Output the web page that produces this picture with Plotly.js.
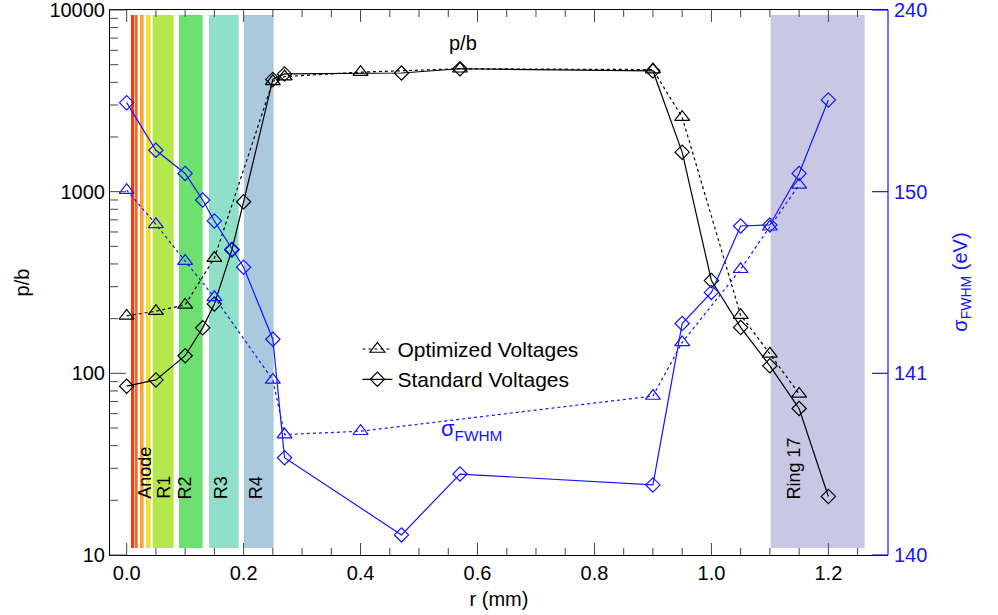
<!DOCTYPE html>
<html>
<head>
<meta charset="utf-8">
<script src="https://cdn.plot.ly/plotly-3.0.1.min.js"></script>
<style>html,body{margin:0;padding:0;background:#fff;}#chart{width:998px;height:615px;}</style>
</head>
<body>
<div id="chart"></div>
<script>
// p/b data (left axis)
const rOptPB = [0.0, 0.05, 0.10, 0.15, 0.25, 0.27, 0.40, 0.57, 0.90, 0.95, 1.05, 1.10, 1.15];
const pbOpt  = [207, 220, 238, 431, 4050, 4300, 4550, 4750, 4700, 2570, 209, 128, 77];
const rStdPB = [0.0, 0.05, 0.10, 0.13, 0.15, 0.18, 0.20, 0.25, 0.27, 0.47, 0.57, 0.90, 0.95, 1.00, 1.05, 1.10, 1.15, 1.20];
const pbStd  = [85, 92, 125, 178, 241, 478, 880, 4150, 4450, 4500, 4750, 4620, 1650, 324, 179, 110, 64, 21];

// sigma_FWHM data in eV (right axis)
const rOptSig = [0.0, 0.05, 0.10, 0.15, 0.25, 0.27, 0.40, 0.90, 0.95, 1.05, 1.10, 1.15];
const sigOpt  = [150.2, 146.61, 144.15, 142.62, 140.92, 140.46, 140.48, 140.75, 141.48, 143.74, 146.41, 150.9];
const rStdSig = [0.0, 0.05, 0.10, 0.13, 0.15, 0.18, 0.20, 0.25, 0.27, 0.47, 0.57, 0.90, 0.95, 1.00, 1.05, 1.10, 1.15, 1.20];
const sigStd  = [170.9, 156.9, 152.6, 149.0, 146.9, 144.82, 143.84, 141.54, 140.343, 140.129, 140.279, 140.243, 141.88, 142.79, 146.47, 146.56, 152.6, 172.0];

// electrode regions
const bandStart  = [0.0074, 0.0142, 0.0227, 0.033, 0.0444, 0.0894, 0.1407, 0.2005, 1.1014];
const bandEnd    = [0.013, 0.0188, 0.029, 0.041, 0.0803, 0.130, 0.1915, 0.2513, 1.262];
const bandColors = ['#f03a10', '#f5661e', '#f5a232', '#f0e032', '#b4e84c', '#6ee070', '#90e0c8', '#aac8de', '#c8c8e4'];
const bandLabelX = [0.031, 0, 0, 0, 0.0626, 0.0997, 0.161, 0.2205, 1.142];
const bandLabelText = ['Anode', '', '', '', 'R1', 'R2', 'R3', 'R4', 'Ring 17'];

// axis ticks
const pbTickVals = [10, 100, 1000, 10000];
const pbTickText = ['10', '100', '1000', '10000'];
const SIG0 = 140;     // right axis: log of (sigma - 140 eV), sharing the p/b decades
const SIGK = 100;     // 0.1 eV above 140 sits on the p/b = 10 line
const sigTickVals = [140, 141, 150, 240];
const rTickVals = [0, 0.2, 0.4, 0.6, 0.8, 1.0, 1.2];
const rTickText = ['0.0', '0.2', '0.4', '0.6', '0.8', '1.0', '1.2'];

// minor ticks
const pbMinor = [];
for (let d = 10; d < 10000; d *= 10) for (let k = 2; k <= 9; k++) pbMinor.push(k * d);
const rMinor = [];
for (let k = 1; k <= 25; k++) if (k % 4 !== 0) rMinor.push(k * 0.05);

const BLUE = '#1414ff';
const TICK = '#444';
const FONT = 'Liberation Sans, Arial, sans-serif';
const EPS = 1e-4;
const YMIN = 1, YMAX = 4;
const PLOT_W = 778, PLOT_H = 545;
const sigToY = v => Math.max((v - SIG0) * SIGK, 10);
const sigToPaper = v => (Math.log10(sigToY(v)) - YMIN) / (YMAX - YMIN);
const pbToPaper = v => (Math.log10(v) - YMIN) / (YMAX - YMIN);

const traces = [
  {x: rOptPB, y: pbOpt, name: 'Optimized Voltages', mode: 'lines+markers',
   line: {color: '#000', width: 1.2, dash: 'dot'},
   marker: {symbol: 'triangle-up-open', size: 13, color: '#000', line: {width: 1.2}}},
  {x: rStdPB, y: pbStd, name: 'Standard Voltages', mode: 'lines+markers',
   line: {color: '#000', width: 1.2},
   marker: {symbol: 'diamond-open', size: 11, color: '#000', line: {width: 1.2}}},
  {x: rOptSig, y: sigOpt.map(sigToY), name: 'sigOpt', showlegend: false, mode: 'lines+markers',
   line: {color: BLUE, width: 1.2, dash: 'dot'},
   marker: {symbol: 'triangle-up-open', size: 13, color: BLUE, line: {width: 1.2}}},
  {x: rStdSig, y: sigStd.map(sigToY), name: 'sigStd', showlegend: false, mode: 'lines+markers',
   line: {color: BLUE, width: 1.2},
   marker: {symbol: 'diamond-open', size: 11, color: BLUE, line: {width: 1.2}}}
];

const shapes = bandStart.map((s, i) => ({
  type: 'rect', xref: 'x', yref: 'paper', x0: s, x1: bandEnd[i], y0: 0.013, y1: 0.991,
  fillcolor: bandColors[i], line: {width: 0}, layer: 'below'
}));

// tick marks along the r axis (bottom and top), built from the tick arrays
function xTick(v, len) {
  const h = len / PLOT_H;
  shapes.push({type: 'line', xref: 'x', yref: 'paper', x0: v, x1: v, y0: 0, y1: h, line: {color: TICK, width: 1}});
  shapes.push({type: 'line', xref: 'x', yref: 'paper', x0: v, x1: v, y0: 1 - h, y1: 1, line: {color: TICK, width: 1}});
}
rTickVals.forEach(v => xTick(v, 12));
rMinor.forEach(v => xTick(v, 7));
// tick marks along the p/b axis (left)
function yTick(v, len) {
  const p = pbToPaper(v);
  shapes.push({type: 'line', xref: 'paper', yref: 'paper', x0: 0, x1: len / PLOT_W, y0: p, y1: p, line: {color: TICK, width: 1}});
}
pbTickVals.forEach(v => yTick(v, 16));
pbMinor.forEach(v => yTick(v, 8));

// right (sigma) axis line and ticks
shapes.push({type: 'line', xref: 'paper', yref: 'paper', x0: 1, x1: 1, y0: 0, y1: 1,
  line: {color: BLUE, width: 1.2}});
sigTickVals.forEach(v => shapes.push({type: 'line', xref: 'paper', yref: 'paper',
  x0: 1 - 16 / PLOT_W, x1: 1, y0: sigToPaper(v), y1: sigToPaper(v), line: {color: BLUE, width: 1.2}}));

const annotations = [];
bandLabelText.forEach((t, i) => {
  if (!t) return;
  annotations.push({text: t, x: bandLabelX[i], xref: 'x', y: 0.099, yref: 'paper',
    textangle: -90, xanchor: 'center', yanchor: 'bottom', showarrow: false,
    font: {family: FONT, size: 18, color: '#000'}});
});
annotations.push({text: 'p/b', x: 0.575, xref: 'x', y: 0.94, yref: 'paper', yanchor: 'middle', showarrow: false,
  font: {family: FONT, size: 20, color: '#000'}});
annotations.push({text: 'σ<sub>FWHM</sub>', x: 0.59, xref: 'x', y: 0.2, yref: 'paper', showarrow: false,
  font: {family: FONT, size: 22, color: BLUE}});
// right axis labels and title
sigTickVals.forEach(v => annotations.push({text: String(v), xref: 'paper', yref: 'paper',
  x: 1 + 4 / PLOT_W, y: sigToPaper(v), xanchor: 'left', yanchor: 'middle', showarrow: false,
  font: {family: FONT, size: 20, color: BLUE}}));
annotations.push({text: 'σ<sub>FWHM</sub> (eV)', xref: 'paper', yref: 'paper', x: 1.094, y: 0.5,
  textangle: -90, xanchor: 'center', yanchor: 'middle', showarrow: false,
  font: {family: FONT, size: 20, color: BLUE}});

const layout = {
  width: 998, height: 615,
  margin: {l: 110, r: 110, t: 10, b: 60},
  paper_bgcolor: '#fff', plot_bgcolor: '#fff',
  font: {family: FONT, size: 20, color: '#000'},
  showlegend: true,
  legend: {x: 0.318, y: 0.415, xanchor: 'left', yanchor: 'top', bgcolor: 'rgba(0,0,0,0)',
    font: {family: FONT, size: 21, color: '#000'}, tracegroupgap: 0},
  xaxis: {
    range: [-0.0285, 1.302], showgrid: false, zeroline: false,
    showline: true, linecolor: '#000', mirror: true, ticks: '',
    tickvals: rTickVals, ticktext: rTickText,
    title: {text: 'r (mm)', font: {family: FONT, size: 20}, standoff: 8},
    tickfont: {family: FONT, size: 20}
  },
  yaxis: {
    type: 'log', range: [YMIN - EPS, YMAX + EPS], showgrid: false, zeroline: false,
    showline: true, linecolor: '#000', ticks: '',
    tickvals: pbTickVals, ticktext: pbTickText, ticklabeloverflow: 'allow',
    title: {text: 'p/b', font: {family: FONT, size: 20}, standoff: 14},
    tickfont: {family: FONT, size: 20}
  },
  shapes: shapes,
  annotations: annotations
};

Plotly.newPlot('chart', traces, layout, {displayModeBar: false, staticPlot: true});
</script>
</body>
</html>
